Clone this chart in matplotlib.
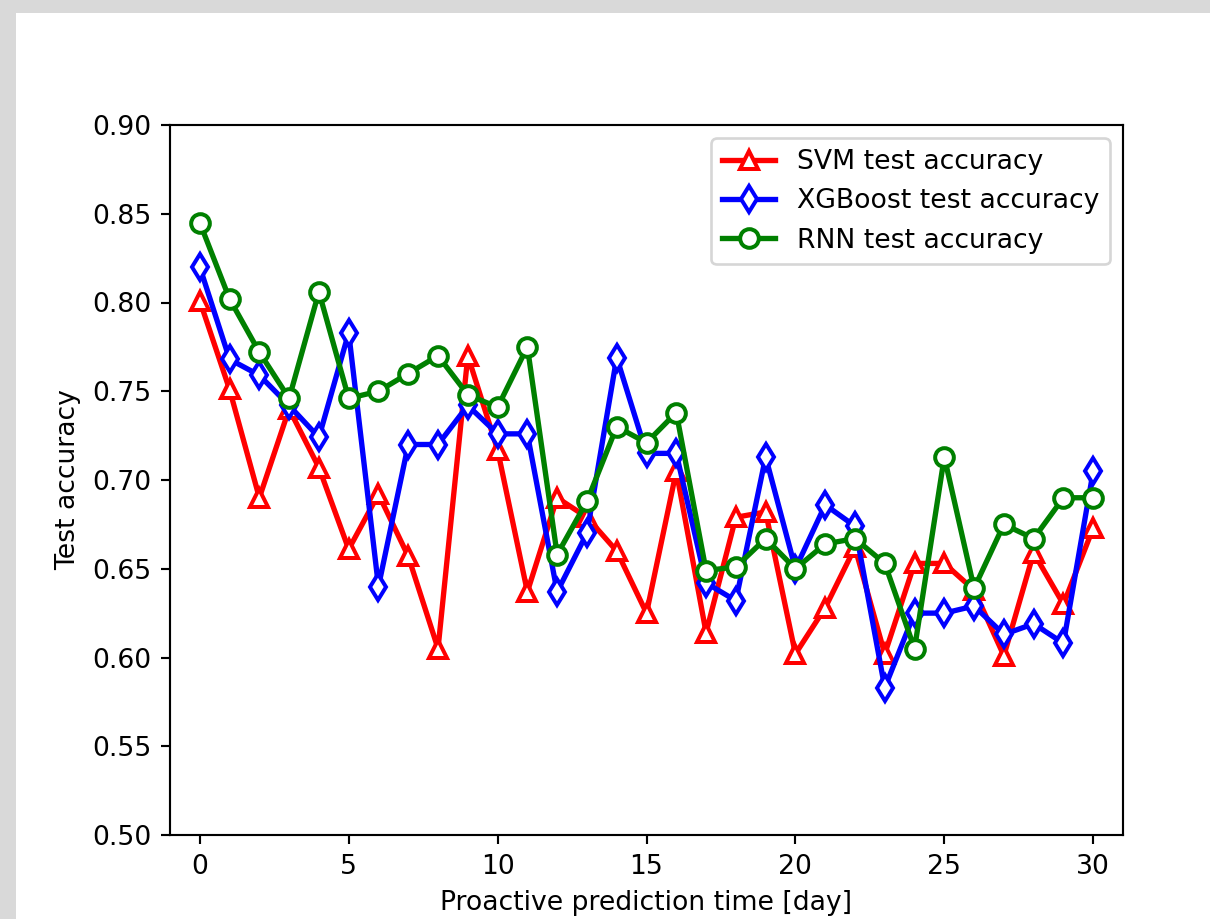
import matplotlib
matplotlib.use("Agg")
import matplotlib.pyplot as plt
from matplotlib.patches import Rectangle

days = list(range(31))
svm = [0.801, 0.751, 0.690, 0.740, 0.707, 0.661, 0.692, 0.657, 0.605, 0.770,
       0.717, 0.637, 0.690, 0.679, 0.660, 0.625, 0.705, 0.614, 0.679, 0.682,
       0.602, 0.628, 0.662, 0.602, 0.653, 0.653, 0.638, 0.601, 0.659, 0.630, 0.673]
xgb = [0.820, 0.768, 0.759, 0.742, 0.724, 0.783, 0.640, 0.720, 0.720, 0.742,
       0.726, 0.726, 0.637, 0.670, 0.769, 0.715, 0.715, 0.642, 0.632, 0.713,
       0.650, 0.686, 0.674, 0.583, 0.625, 0.625, 0.629, 0.613, 0.619, 0.608, 0.705]
rnn = [0.845, 0.802, 0.772, 0.746, 0.806, 0.746, 0.750, 0.760, 0.770, 0.748,
       0.741, 0.775, 0.658, 0.688, 0.730, 0.721, 0.738, 0.649, 0.651, 0.667,
       0.650, 0.664, 0.667, 0.653, 0.605, 0.713, 0.639, 0.675, 0.667, 0.690, 0.690]

W, H = 1210, 919
fig = plt.figure(figsize=(W / 192, H / 192), dpi=192, facecolor="#d9d9d9")
fig.patches.append(Rectangle((16 / W, 0), 1, 1 - 13 / H, transform=fig.transFigure,
                             facecolor="white", edgecolor="none", zorder=-1))
ax = fig.add_axes([170 / W, (H - 835) / H, 953 / W, 710 / H])

ax.plot(days, svm, color="red", marker="^", mfc="white", mec="red", mew=1.5,
        ms=7, lw=2, label="SVM test accuracy")
ax.plot(days, xgb, color="blue", marker="d", mfc="white", mec="blue", mew=1.5,
        ms=7, lw=2, label="XGBoost test accuracy")
ax.plot(days, rnn, color="green", marker="o", mfc="white", mec="green", mew=1.5,
        ms=7, lw=2, label="RNN test accuracy")

ax.set_xlim(-1, 31)
ax.set_ylim(0.5, 0.9)
ax.set_xticks(range(0, 31, 5))
ax.set_yticks([0.50, 0.55, 0.60, 0.65, 0.70, 0.75, 0.80, 0.85, 0.90])
ax.set_xlabel("Proactive prediction time [day]")
ax.set_ylabel("Test accuracy")
ax.legend(loc="upper right")

fig.savefig("out.png", dpi=192, facecolor=fig.get_facecolor())
